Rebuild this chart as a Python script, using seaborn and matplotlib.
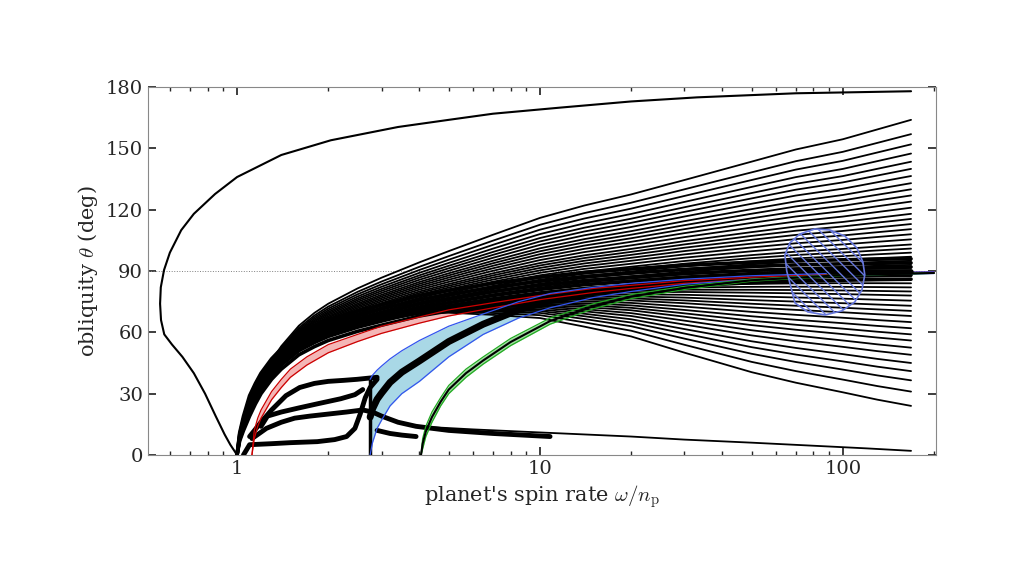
import numpy as np
import matplotlib
matplotlib.use("Agg")
import matplotlib.pyplot as plt
import seaborn as sns
from matplotlib.patches import Polygon

sns.set_theme(style="ticks")
plt.rcParams['font.family'] = ['DejaVu Serif']
plt.rcParams['mathtext.fontset'] = 'cm'
plt.rcParams['hatch.color'] = '#6677dd'
plt.rcParams['hatch.linewidth'] = 1.0

# ---- data ----
grid_x = [1.0, 1.02, 1.05, 1.1, 1.15, 1.2, 1.3, 1.4, 1.6, 1.8, 2, 2.5, 3, 4, 5, 7,
          10, 14, 20, 30, 50, 70, 100, 130, 168]
base_y = [0, 8, 14, 22, 28, 33, 40, 45, 52, 56, 59, 63.5, 66.5, 71, 73.5, 77, 80,
          82.3, 84, 85.8, 87.3, 88, 88.5, 88.8, 89]
w_up = [0, 0.005, 0.01, 0.02, 0.035, 0.05, 0.08, 0.11, 0.15, 0.18, 0.2, 0.24, 0.27,
        0.31, 0.35, 0.41, 0.48, 0.53, 0.58, 0.65, 0.75, 0.82, 0.88, 0.94, 1]
w_down = [0, 0, 0, 0, 0, 0, 0, 0, 0, 0, 0, 0.005, 0.012, 0.03, 0.06, 0.13, 0.2,
          0.3, 0.4, 0.55, 0.72, 0.81, 0.89, 0.95, 1]
fan_up_ends = [164, 157, 152, 147.5, 143.5, 140, 136.5, 133, 130, 127, 124, 121,
               118, 115.5, 113, 110.5, 108, 105.5, 103, 101, 99, 97, 95, 93, 91.5]
fan_down_ends = [87.5, 86, 84, 82, 80, 78, 75.5, 73, 70.5, 68, 65, 62, 59, 56,
                 52.5, 49, 45, 41, 36.5, 31, 24]
bundle_offsets = [-3, -1, 1, 3, 5, 7]

top_x = [1.0, 0.95, 0.91, 0.85, 0.784, 0.72, 0.66, 0.61, 0.575, 0.561, 0.557, 0.56,
         0.574, 0.6, 0.654, 0.72, 0.846, 1.0, 1.4, 2.04, 3.4, 5, 7, 11.7, 20, 33, 70, 168]
top_y = [0, 5, 10, 19, 30, 40, 48, 54, 59, 66, 74, 82, 90.5, 99, 110, 118, 127.7,
         136, 146.8, 154, 160.5, 164, 167, 170, 173, 175, 177, 178]

low1_x = [1.1, 1.2, 1.3, 1.45, 1.61, 1.8, 2.0, 2.25, 2.49, 2.9]
low1_y = [9, 16, 22, 29, 33, 35, 36, 36.5, 37, 38]
low2_x = [1.2, 1.26, 1.4, 1.6, 1.84, 2.2, 2.45, 2.6]
low2_y = [14, 19, 21, 23, 25, 27.5, 29.5, 32]
low3_x = [1.12, 1.25, 1.4, 1.55, 1.74, 2.0, 2.3, 2.6, 2.8, 3.0, 3.4, 3.9, 5, 7, 10.8]
low3_y = [8, 13, 16, 18, 19, 20, 21, 22, 21, 19, 16, 14, 12, 10.5, 9]
low4_x = [1.05, 1.1, 1.3, 1.5, 1.84, 2.1, 2.3, 2.45, 2.55, 2.65, 2.75, 2.9]
low4_y = [0, 5, 5.5, 6, 6.5, 7.5, 9, 13, 20, 28, 33, 37]
low5_x = [2.9, 3.2, 3.5, 3.9]
low5_y = [12, 10.5, 9.7, 9]
bottom_x = [3.9, 6, 10, 20, 30, 50, 80, 120, 168]
bottom_y = [14, 12.5, 11, 9, 7.5, 6, 4.5, 3.2, 2]

red_x = [1.12, 1.14, 1.17, 1.2, 1.3, 1.4, 1.5, 1.7, 2, 2.5, 3, 4, 5, 7, 10, 15, 20,
         30, 50, 100, 200]
red_lo = [0, 8, 14, 18, 27, 33, 38, 44, 50, 55.5, 59.5, 64.5, 68, 72, 76, 79.5,
          81.5, 84, 86, 88, 89]
red_hi = [0, 12, 18, 22, 31, 37, 42, 48, 54, 59, 63, 67.5, 71, 74.5, 78, 81.5, 83,
          85.3, 87, 88.7, 89.6]

blue_x = [2.75, 2.8, 2.9, 3.0, 3.2, 3.5, 4, 5, 6.5, 8.5, 10.8, 15, 20, 30, 50, 100, 200]
blue_hi = [37, 39, 41.5, 43.5, 47, 51, 56, 63, 69, 75, 79, 82, 84, 86, 87.7, 89, 89.6]
blue_lo = [0, 6, 13, 17, 24, 30, 36, 48, 59, 67, 72, 77, 80, 83.5, 86, 88, 88.8]

green_x = [4.05, 4.1, 4.2, 4.4, 4.7, 5, 5.7, 6.5, 8, 10.8, 15, 20, 30, 50, 100, 200]
green_hi = [0, 8, 14, 21, 28, 34, 42, 48, 57, 67, 74, 78.5, 82.5, 86, 88.3, 89.2]
green_lo = [0, 3, 9, 16, 24, 30, 38, 44.5, 53.5, 64, 71.5, 76.5, 81, 85, 87.8, 88.9]

lobe_x = [65.3, 64.4, 66.8, 72.1, 80.8, 90.6, 101.6, 111.3, 116.5, 118.2, 115.6,
          109.6, 99.3, 87.3, 76.6, 69.5, 65.3]
lobe_y = [90, 97.8, 103.7, 108.1, 110.6, 110.1, 107.1, 101.3, 94.4, 88.1, 80.7,
          74.9, 70.5, 68.5, 70, 74.4, 90]

# ---- figure ----
fig = plt.figure(figsize=(10.24, 5.81), dpi=100)
ax = fig.add_axes([0.1445, 0.217, 0.7695, 0.633])
ax.set_xscale('log')

gx = np.array(grid_x); by = np.array(base_y)
wu = np.array(w_up); wd = np.array(w_down)


def line(xs, ys, lw, color='black', z=3):
    sns.lineplot(x=xs, y=ys, ax=ax, color=color, lw=lw, sort=False,
                 estimator=None, errorbar=None, zorder=z)


ax.fill_between(red_x, red_lo, red_hi, color='#f4b6b6', lw=0, zorder=1)
ax.fill_between(blue_x, blue_lo, blue_hi, color='#a9d8e6', lw=0, zorder=1)
ax.fill_between(green_x, green_lo, green_hi, color='#9ee09e', lw=0, zorder=1)

for e in fan_up_ends:
    line(gx, by + (e - 89) * wu, 1.3)
for e in fan_down_ends:
    line(gx, by + (e - 89) * wd, 1.3)
for o in bundle_offsets:
    line(gx, np.clip(by + o * np.clip(by / 20, 0, 1), 0, None), 2.6)

line(top_x, top_y, 1.5)
for xs, ys in [(low1_x, low1_y), (low2_x, low2_y), (low3_x, low3_y),
               (low4_x, low4_y), (low5_x, low5_y)]:
    line(xs, ys, 3.5)
line(bottom_x, bottom_y, 1.3)

mid_blue = (np.array(blue_hi) + np.array(blue_lo)) / 2
line(blue_x[:-1], mid_blue[:-1], 5)
ax.plot([2.75, 2.75], [0, 37], color='black', lw=2.5, zorder=3)

line(red_x, red_lo, 0.9, '#cc0000', 4)
line(red_x, red_hi, 0.9, '#cc0000', 4)
line(blue_x, blue_lo, 0.9, '#3355ee', 4)
line(blue_x, blue_hi, 0.9, '#3355ee', 4)
line(green_x, green_lo, 0.9, '#22aa22', 4)
line(green_x, green_hi, 0.9, '#22aa22', 4)
line(green_x, (np.array(green_lo) + np.array(green_hi)) / 2, 1.5, 'black', 4)
ax.plot([90, 168], [89.5, 89.5], color='black', lw=4, zorder=4)

ax.add_patch(Polygon(np.column_stack([lobe_x, lobe_y]), closed=True, fill=False,
                     edgecolor='#6677dd', hatch='\\\\\\', lw=1.2, zorder=5))

ax.axhline(90, color='gray', lw=0.7, ls=':', zorder=2)

ax.set_xlim(0.508, 203)
ax.set_ylim(0, 180)
ax.set_yticks([0, 30, 60, 90, 120, 150, 180])
ax.set_xticks([1, 10, 100])
ax.set_xticklabels(['1', '10', '100'])
ax.tick_params(direction='in', which='both', top=True, right=True, labelsize=14)
ax.tick_params(which='major', length=6)
ax.tick_params(which='minor', length=3)
for s in ax.spines.values():
    s.set_color('#888888'); s.set_linewidth(0.8)
ax.set_xlabel(r"planet's spin rate $\omega/n_\mathrm{p}$", fontsize=15)
ax.set_ylabel(r"obliquity $\theta$ (deg)", fontsize=15)
fig.savefig('out.png', dpi=100, facecolor='white')
